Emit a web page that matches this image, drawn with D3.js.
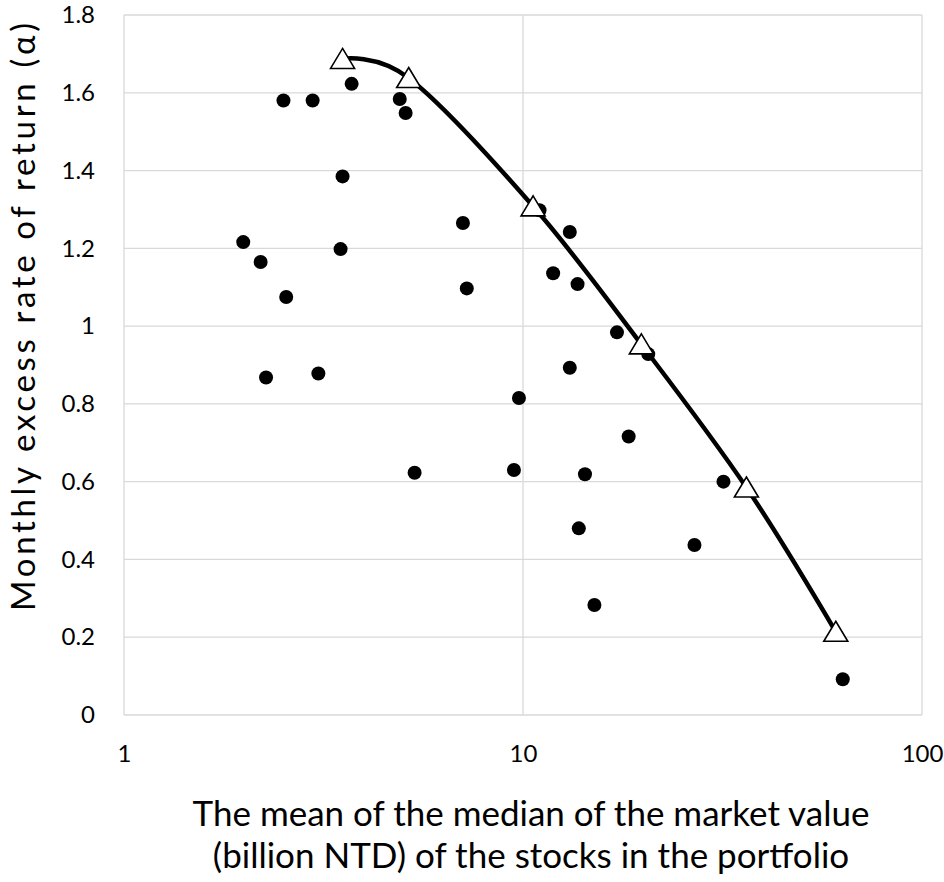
<!DOCTYPE html>
<html>
<head>
<meta charset="utf-8">
<title></title>
<style>
body { margin: 0; background: #fff; }
text { font-family: Lato, "Open Sans", sans-serif; fill: #000; }
.grid line { stroke: #d9d9d9; stroke-width: 1.3px; }
</style>
</head>
<body>
<script src="https://cdn.jsdelivr.net/npm/d3@7/dist/d3.min.js"></script>
<script>

// portfolio points (market value, alpha)
var mktValue = [1.99, 2.20, 2.27, 2.51, 2.55, 2.97, 3.07, 3.49, 3.53, 3.72,
                4.91, 5.08, 5.35, 7.07, 7.23, 9.49, 9.77, 11.0, 11.9, 13.1,
                13.1, 13.7, 13.8, 14.3, 15.1, 17.2, 18.4, 20.6, 26.9, 31.8, 63.3];
var alpha = [1.216, 1.165, 0.868, 1.580, 1.075, 1.580, 0.878, 1.198, 1.385, 1.623,
             1.584, 1.548, 0.623, 1.265, 1.097, 0.630, 0.815, 1.298, 1.136, 1.242,
             0.893, 1.108, 0.480, 0.619, 0.283, 0.984, 0.716, 0.928, 0.437, 0.600, 0.092];

// frontier (triangles + smooth line)
var frontierX = [3.53, 5.17, 10.6, 19.8, 36.3, 60.8];
var frontierY = [1.687, 1.638, 1.308, 0.953, 0.585, 0.214];

var xTicks = [1, 10, 100];
var yTicks = [0, 0.2, 0.4, 0.6, 0.8, 1, 1.2, 1.4, 1.6, 1.8];

var width = 944, height = 882;
var margin = {left: 124, top: 15, right: 22, bottom: 167};

var svg = d3.select("body").append("svg")
    .attr("width", width)
    .attr("height", height);

var x = d3.scaleLog().domain([1, 100]).range([margin.left, width - margin.right]);
var y = d3.scaleLinear().domain([0, 1.8]).range([height - margin.bottom, margin.top]);

// gridlines
var grid = svg.append("g").attr("class", "grid");
grid.selectAll(".hy")
    .data(yTicks)
    .enter().append("line")
    .attr("x1", x(1)).attr("x2", x(100))
    .attr("y1", function(d) { return y(d); })
    .attr("y2", function(d) { return y(d); });
grid.selectAll(".vx")
    .data(xTicks)
    .enter().append("line")
    .attr("y1", y(0)).attr("y2", y(1.8))
    .attr("x1", function(d) { return x(d); })
    .attr("x2", function(d) { return x(d); });

// axes (labels only, Excel style)
var yAxis = svg.append("g")
    .attr("transform", "translate(" + (x(1) - 26) + ",0)")
    .call(d3.axisLeft(y).tickValues(yTicks).tickSize(0).tickFormat(d3.format("~g")));
yAxis.select(".domain").remove();
yAxis.selectAll("text").attr("font-size", 24).attr("font-family", "Lato");

var xAxis = svg.append("g")
    .attr("transform", "translate(0," + (y(0) + 27) + ")")
    .call(d3.axisBottom(x).tickValues(xTicks).tickSize(0).tickFormat(d3.format("d")));
xAxis.select(".domain").remove();
xAxis.selectAll("text").attr("font-size", 24).attr("font-family", "Lato");

// scatter points
svg.append("g")
    .selectAll("circle")
    .data(mktValue)
    .enter().append("circle")
    .attr("cx", function(d) { return x(d); })
    .attr("cy", function(d, i) { return y(alpha[i]); })
    .attr("r", 7)
    .style("fill", "#000");

// smooth frontier line
var frontier = frontierX.map(function(d, i) { return [d, frontierY[i]]; });
var line = d3.line()
    .x(function(d) { return x(d[0]); })
    .y(function(d) { return y(d[1]); })
    .curve(d3.curveCardinal.tension(0));

svg.append("path")
    .datum(frontier)
    .attr("d", line)
    .style("fill", "none")
    .style("stroke", "#000")
    .style("stroke-width", 4.5);

svg.append("g")
    .selectAll("path")
    .data(frontier)
    .enter().append("path")
    .attr("d", "M0,-10.5L12,9.5L-12,9.5Z")
    .attr("transform", function(d) { return "translate(" + x(d[0]) + "," + y(d[1]) + ")"; })
    .style("fill", "#fff")
    .style("stroke", "#000")
    .style("stroke-width", 1.6);

// axis titles
svg.append("text")
    .attr("transform", "translate(35,317) rotate(-90)")
    .attr("text-anchor", "middle")
    .attr("font-size", 33)
    .attr("textLength", 588)
    .attr("lengthAdjust", "spacing")
    .text("Monthly excess rate of return (α)");

var xTitle = svg.append("text")
    .attr("text-anchor", "middle")
    .attr("font-size", 35);
xTitle.append("tspan")
    .attr("x", 531)
    .attr("y", 826)
    .text("The mean of the median of the market value");
xTitle.append("tspan")
    .attr("x", 531)
    .attr("y", 868)
    .text("(billion NTD) of the stocks in the portfolio");

</script>
</body>
</html>
